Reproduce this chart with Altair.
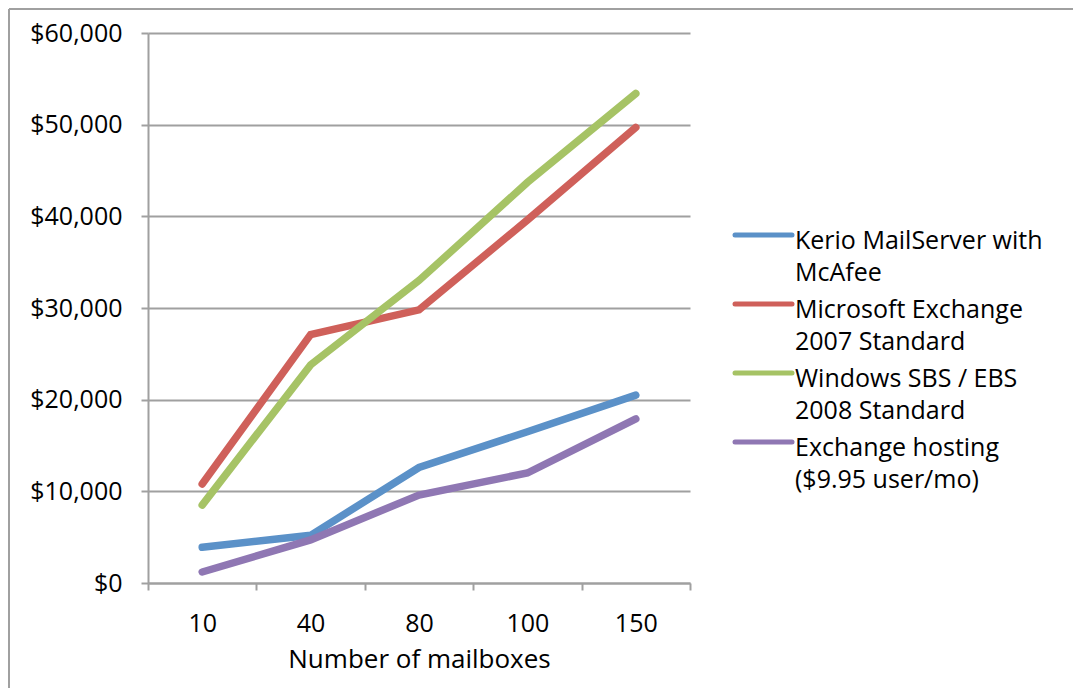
import altair as alt
import pandas as pd

mailboxes = ["10", "40", "80", "100", "150"]
series = [
    "Kerio MailServer with McAfee",
    "Microsoft Exchange 2007 Standard",
    "Windows SBS / EBS 2008 Standard",
    "Exchange hosting ($9.95 user/mo)",
]
legend_labels = [
    "Kerio MailServer with\nMcAfee",
    "Microsoft Exchange\n2007 Standard",
    "Windows SBS / EBS\n2008 Standard",
    "Exchange hosting\n($9.95 user/mo)",
]
kerio = [3900, 5200, 12600, 16500, 20500]
ms_exchange = [10800, 27100, 29800, 39600, 49700]
sbs_ebs = [8500, 23800, 33000, 43700, 53400]
hosting = [1200, 4700, 9600, 12000, 17900]
colors = ["#5B91C8", "#CF605A", "#A6C365", "#8F77B3"]
y_ticks = [0, 10000, 20000, 30000, 40000, 50000, 60000]

rows = []
for s, vals in zip(series, [kerio, ms_exchange, sbs_ebs, hosting]):
    for m, v in zip(mailboxes, vals):
        rows.append({"series": s, "mailboxes": m, "cost": v})
df = pd.DataFrame(rows)
legend_df = pd.DataFrame({"series": series, "label": legend_labels})

FONT = "Open Sans"
GRAY = "#a0a0a0"

color = alt.Color("series:N", scale=alt.Scale(domain=series, range=colors), legend=None)

lines = alt.Chart(df).mark_line(strokeWidth=7.5, strokeCap="round").encode(
    x=alt.X(
        "mailboxes:N",
        sort=mailboxes,
        scale=alt.Scale(type="band", domain=mailboxes, paddingInner=0, paddingOuter=0),
        axis=alt.Axis(
            title="Number of mailboxes",
            labelAngle=0,
            tickBand="extent",
            grid=False,
            labelPadding=21,
            titleFontSize=26,
            titleFontWeight="normal",
            titleFont=FONT,
            titleColor="black",
            titleY=84,
            titleBaseline="alphabetic",
        ),
    ),
    y=alt.Y(
        "cost:Q",
        scale=alt.Scale(domain=[0, 60000], nice=False),
        axis=alt.Axis(values=y_ticks, format="$,.0f", title=None, grid=True, labelPadding=19),
    ),
    color=color,
)

legend_scale = alt.Scale(type="point", domain=series, range=[202, 409], padding=0)

legend_sym = alt.Chart(legend_df).mark_rule(strokeWidth=5, strokeCap="round").encode(
    x=alt.value(587),
    x2=alt.value(644),
    y=alt.Y("series:N", scale=legend_scale, axis=None),
    color=color,
)

legend_txt = alt.Chart(legend_df).mark_text(
    align="left", baseline="alphabetic", dy=14, lineBreak="\n",
    font=FONT, fontSize=25, lineHeight=32, color="black",
).encode(
    x=alt.value(647),
    y=alt.Y("series:N", scale=legend_scale, axis=None),
    text="label:N",
)

one = pd.DataFrame({"a": [0]})
border_left = alt.Chart(one).mark_rule(color=GRAY, strokeWidth=2).encode(
    x=alt.value(-139), y=alt.value(-24), y2=alt.value(665)
)
border_top = alt.Chart(one).mark_rule(color=GRAY, strokeWidth=2).encode(
    x=alt.value(-139), x2=alt.value(930), y=alt.value(-24)
)

chart = (
    alt.layer(border_left, border_top, lines, legend_sym, legend_txt)
    .resolve_scale(y="independent")
    .properties(
        width=542,
        height=550,
        autosize=alt.AutoSizeParams(type="none"),
        padding={"left": 140, "top": 25, "right": 383, "bottom": 105},
        background="white",
    )
    .configure_view(stroke=None)
    .configure_axis(
        labelFont=FONT,
        labelFontSize=25,
        labelColor="black",
        domainColor=GRAY,
        domainWidth=2,
        tickColor=GRAY,
        tickWidth=2,
        tickSize=7,
        gridColor=GRAY,
        gridWidth=2,
    )
)

chart.save("out.html", embed_options={"renderer": "svg", "actions": False})
